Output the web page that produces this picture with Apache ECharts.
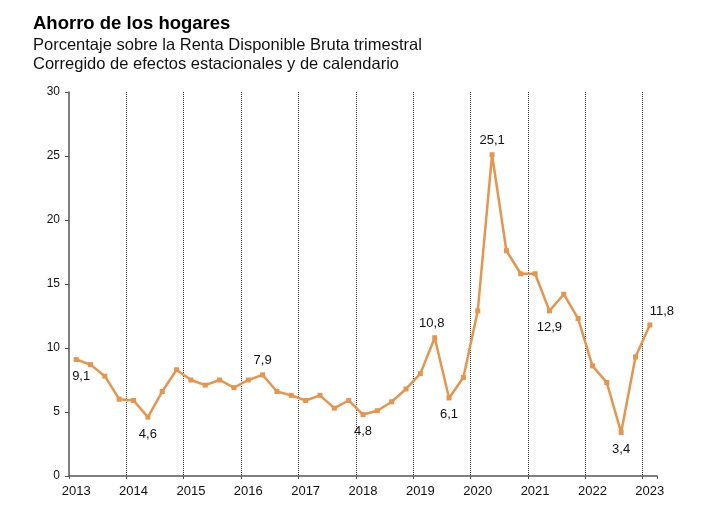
<!DOCTYPE html>
<html>
<head>
<meta charset="utf-8">
<script src="https://cdn.jsdelivr.net/npm/echarts@6/dist/echarts.min.js"></script>
<style>
  html, body { margin: 0; padding: 0; background: #fff; }
  #main { width: 701px; height: 517px; }
</style>
</head>
<body>
<div id="main"></div>
<script>
// quarterly household saving rate, 2013Q1 .. 2023Q1
var years = ['2013', '2014', '2015', '2016', '2017', '2018', '2019', '2020', '2021', '2022', '2023'];
var quarters = [];
years.forEach(function (y) {
    for (var q = 1; q <= 4; q++) quarters.push(y + 'Q' + q);
});
quarters = quarters.slice(0, 41);

var savings = [
    9.1, 8.7, 7.8, 6.0,
    5.9, 4.6, 6.6, 8.3,
    7.5, 7.1, 7.5, 6.9,
    7.5, 7.9, 6.6, 6.3,
    5.9, 6.3, 5.3, 5.9,
    4.8, 5.1, 5.8, 6.8,
    8.0, 10.8, 6.1, 7.7,
    12.9, 25.1, 17.6, 15.8,
    15.8, 12.9, 14.2, 12.3,
    8.6, 7.3, 3.4, 9.3,
    11.8
];

// which points carry a value label, and where
var labelIdx = [0, 5, 13, 20, 25, 26, 29, 33, 38, 40];
var labelPos = ['bottom', 'bottom', 'top', 'bottom', 'top', 'bottom', 'top', 'bottom', 'bottom', 'top'];

var orange = '#E8944A';
var axisGrey = '#555';
var font = '"Liberation Sans", Arial, sans-serif';

var seriesData = savings.map(function (v, i) {
    var k = labelIdx.indexOf(i);
    if (k < 0) return v;
    var lbl = { show: true, position: labelPos[k], distance: labelPos[k] == 'top' ? 5 : 8 };
    if (i === 0) lbl.offset = [5, 0];
    if (i === 25) lbl.offset = [-3, 0];
    if (i === 40) lbl.offset = [12, 0];
    return { value: v, label: lbl };
});

var myChart = echarts.init(document.getElementById('main'));
var option = {
    animation: false,
    textStyle: { fontFamily: font },
    title: {
        left: 28,
        top: 9,
        text: 'Ahorro de los hogares',
        textStyle: { fontSize: 18.5, fontWeight: 'bold', color: '#000', fontFamily: font },
        subtext: 'Porcentaje sobre la Renta Disponible Bruta trimestral\nCorregido de efectos estacionales y de calendario',
        subtextStyle: { fontSize: 16.5, color: '#111', lineHeight: 19, fontFamily: font },
        itemGap: 3
    },
    grid: { left: 69, right: 44, top: 92, bottom: 41 },
    xAxis: {
        type: 'category',
        data: quarters,
        boundaryGap: true,
        axisLine: { lineStyle: { color: axisGrey, width: 1.5 } },
        axisTick: {
            show: true,
            length: 3,
            interval: function (i) { return i % 4 === 0; },
            lineStyle: { color: axisGrey }
        },
        axisLabel: {
            interval: function (i) { return i % 4 === 0; },
            formatter: function (v) { return v.slice(0, 4); },
            color: '#111',
            fontSize: 13,
            margin: 9
        },
        splitLine: {
            show: true,
            showMinLine: false,
            showMaxLine: false,
            interval: function (i) { return i % 4 === 0; },
            lineStyle: { color: '#333', type: [1, 1], width: 1 }
        }
    },
    yAxis: {
        type: 'value',
        min: 0,
        max: 30,
        interval: 5,
        axisLine: { show: true, lineStyle: { color: axisGrey, width: 1.5 } },
        axisTick: { show: true, length: 4, lineStyle: { color: axisGrey } },
        axisLabel: { color: '#111', fontSize: 12, margin: 9 },
        splitLine: { show: false }
    },
    series: [{
        type: 'line',
        data: seriesData,
        symbol: 'rect',
        symbolSize: 5,
        showAllSymbol: true,
        itemStyle: { color: orange },
        lineStyle: { color: orange, width: 2.5 },
        label: {
            color: '#111',
            fontSize: 13,
            formatter: function (p) { return String(p.value.toFixed(1)).replace('.', ','); }
        }
    }]
};
myChart.setOption(option);
</script>
</body>
</html>
